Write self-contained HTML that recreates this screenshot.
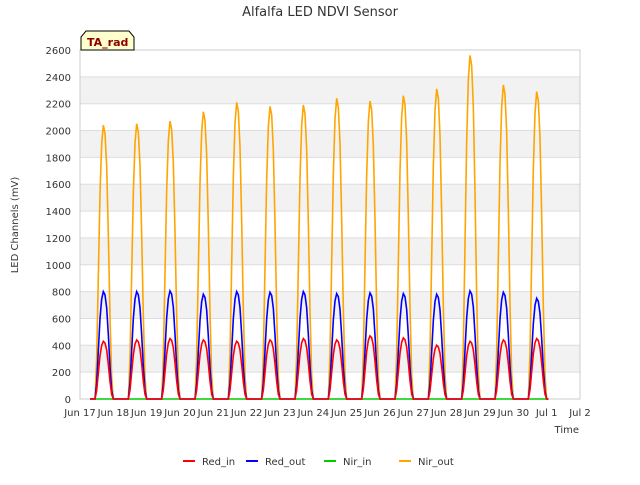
<!DOCTYPE html>
<html><head><meta charset="utf-8"><style>
body{margin:0;background:#fff;font-family:"Liberation Sans","DejaVu Sans",sans-serif;}
svg text{font-family:"DejaVu Sans","Liberation Sans",sans-serif;}
</style></head><body>
<svg id="c" width="640" height="480" xmlns="http://www.w3.org/2000/svg">
<text x="320" y="16" text-anchor="middle" font-size="13" fill="#333">Alfalfa LED NDVI Sensor</text>
<g id="bands"></g><g id="grid"></g>
<rect x="80" y="50" width="500" height="349" fill="none" stroke="#ccc"/>
<g id="series"></g><g id="axes"></g>
<text x="18" y="225" transform="rotate(-90 18 225)" text-anchor="middle" font-size="10" fill="#333">LED Channels (mV)</text>
<text x="579" y="433" text-anchor="end" font-size="10" fill="#333">Time</text>
<g>
<path d="M81,50 L81,37 L86,31 L129,31 L134,37 L134,50 Z" fill="#ffffcc" stroke="#000"/>
<text x="87" y="46" font-size="11" font-weight="bold" fill="#8b0000">TA_rad</text></g>
<g id="legend"></g>
</svg>
<script>
const yTicks=[0,200,400,600,800,1000,1200,1400,1600,1800,2000,2200,2400,2600];
const xTickLabels=["Jun 17","Jun 18","Jun 19","Jun 20","Jun 21","Jun 22","Jun 23","Jun 24","Jun 25","Jun 26","Jun 27","Jun 28","Jun 29","Jun 30","Jul 1","Jul 2"];
const nirOutPeaks=[2040,2050,2070,2140,2210,2180,2190,2240,2220,2260,2310,2560,2340,2290];
const redOutPeaks=[800,800,805,780,800,795,800,785,790,785,780,805,795,750];
const redInPeaks=[430,440,450,440,430,440,450,440,470,455,400,430,440,450];
const nirInPeaks=[0,0,0,0,0,0,0,0,0,0,0,0,0,0];
const shapeT=[0.4,0.45,0.5,0.55,0.6,0.65,0.7,0.75,0.8,0.85,0.9,0.95,1.0,1.05];
const shapeF=[0,0,0.15,0.45,0.75,0.93,1,0.97,0.85,0.6,0.3,0.08,0,0];
const NS="http://www.w3.org/2000/svg";
const X=d=>80+d*500/15, Y=v=>399-v*349/2600;
function mk(t,a,p){const e=document.createElementNS(NS,t);for(const k in a)e.setAttribute(k,a[k]);(p||document.getElementById('c')).appendChild(e);return e;}
const bands=document.getElementById('bands'),grid=document.getElementById('grid'),axes=document.getElementById('axes');
for(let i=1;i<yTicks.length-1;i+=2){const r=mk('rect',{x:80,y:Y(yTicks[i+1]),width:500,height:Y(yTicks[i])-Y(yTicks[i+1]),fill:'#f2f2f2'},bands);

}
yTicks.forEach(v=>{const l=mk('line',{x1:80,x2:580,y1:Y(v),y2:Y(v),stroke:'#ddd'},grid);


const t=mk('text',{x:71,y:Y(v)+4,'text-anchor':'end','font-size':10,fill:'#333'},axes);t.textContent=v;

});
xTickLabels.forEach((s,i)=>{const t=mk('text',{x:X(i),y:416,'text-anchor':'middle','font-size':10,fill:'#333'},axes);t.textContent=s;

});
const ser=document.getElementById('series');
function draw(peaks,color,name){let pts=[[X(0.3),Y(0)]];
peaks.forEach((p,d)=>shapeT.forEach((t,j)=>pts.push([X(d+t),Y(p*shapeF[j])])));
const pl=mk('polyline',{points:pts.map(q=>q.join(',')).join(' '),fill:'none',stroke:color,'stroke-width':1.6},ser);

}
draw(nirInPeaks,'#00cc00','nir-in-line');
draw(nirOutPeaks,'#ffa500','nir-out-line');
draw(redOutPeaks,'#0000ff','red-out-line');
draw(redInPeaks,'#ff0000','red-in-line');
const leg=document.getElementById('legend');
[["Red_in","#ff0000",183],["Red_out","#0000ff",246],["Nir_in","#00cc00",324],["Nir_out","#ffa500",399]].forEach(([n,c,x])=>{
const g=mk('g',{},leg);


mk('line',{x1:x,x2:x+12,y1:461,y2:461,stroke:c,'stroke-width':2},g);
const t=mk('text',{x:x+19,y:465,'font-size':10,fill:'#333'},g);t.textContent=n;});
</script>
</body></html>
